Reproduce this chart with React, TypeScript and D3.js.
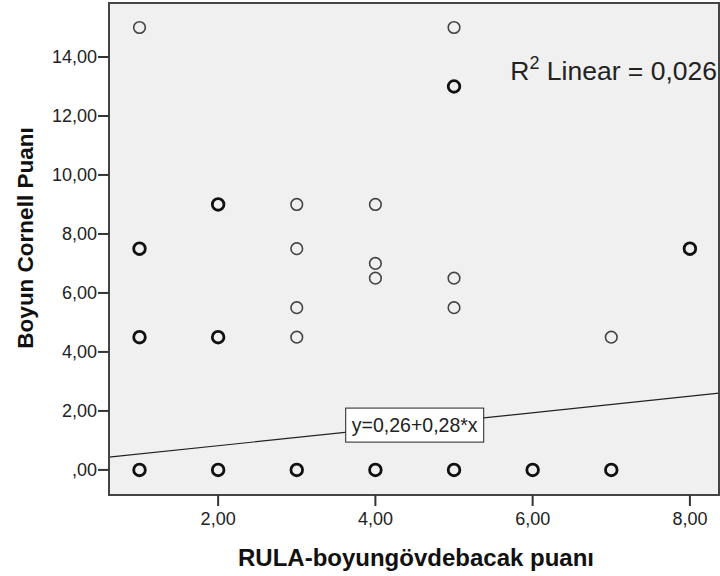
import React from 'react';
import * as d3 from 'd3';

// RULA score vs. neck Cornell score; count = number of overlapping cases
const rulaScore = [1, 1, 1, 1, 2, 2, 2, 3, 3, 3, 3, 3, 4, 4, 4, 4, 5, 5, 5, 5, 5, 6, 7, 7, 8];
const cornellScore = [15, 7.5, 4.5, 0, 9, 4.5, 0, 9, 7.5, 5.5, 4.5, 0, 9, 7, 6.5, 0, 15, 13, 6.5, 5.5, 0, 0, 4.5, 0, 7.5];
const caseCount = [1, 2, 2, 5, 2, 2, 4, 1, 1, 1, 1, 4, 1, 1, 1, 3, 1, 2, 1, 1, 4, 2, 1, 2, 2];

const xTicks = [2, 4, 6, 8];
const yTicks = [0, 2, 4, 6, 8, 10, 12, 14];

const intercept = 0.26;
const slope = 0.28;
const rSquared = '0,026';

const width = 720;
const height = 576;
const margin = { top: 3, right: 1, bottom: 81, left: 109 };

const fmt = (v: number) => {
  const s = v.toFixed(2).replace('.', ',');
  return s.startsWith('0,') ? s.slice(1) : s;
};

export default function App() {
  const x = d3.scaleLinear().domain([0.612, 8.37]).range([margin.left, width - margin.right]);
  const y = d3.scaleLinear().domain([-0.85, 15.83]).range([height - margin.bottom, margin.top]);

  const [x0, x1] = x.domain();
  const fitLine = d3.line<number>()
    .x(d => x(d))
    .y(d => y(intercept + slope * d));

  const labelX = 4.5;
  const labelY = y(intercept + slope * labelX);
  const plotBottom = height - margin.bottom;
  const font = "'Liberation Sans', Arial, sans-serif";

  return (
    <svg width={width} height={height} style={{ position: 'absolute', left: 0, top: 0, fontFamily: font }}>
      <rect x={margin.left} y={margin.top} width={width - margin.left - margin.right}
        height={plotBottom - margin.top} fill="#f0f0f0" />

      <path d={fitLine([x0, x1]) ?? ''} fill="none" stroke="#222" strokeWidth={1.2} />

      {rulaScore.map((v, i) => (
        <circle key={i} cx={x(v)} cy={y(cornellScore[i])} r={5.8}
          fill="none" stroke={caseCount[i] > 1 ? '#111' : '#444'}
          strokeWidth={caseCount[i] > 1 ? 2.8 : 1.6} />
      ))}

      <g>
        <rect x={x(labelX) - 69} y={labelY - 17} width={138} height={34}
          fill="#fff" stroke="#222" strokeWidth={1} />
        <text x={x(labelX)} y={labelY + 7} textAnchor="middle"
          fontSize={19.5} fill="#222">y=0,26+0,28*x</text>
      </g>

      <text x={width - 3} y={80} textAnchor="end" fontSize={26.5} fill="#222">
        R<tspan dy={-11} fontSize={18}>2</tspan><tspan dy={11}> Linear = {rSquared}</tspan>
      </text>

      <rect x={margin.left} y={margin.top} width={width - margin.left - margin.right}
        height={plotBottom - margin.top} fill="none" stroke="#444" strokeWidth={2} />

      {yTicks.map(t => (
        <g key={t} transform={`translate(${margin.left},${y(t)})`}>
          <line x1={-11} x2={0} stroke="#333" strokeWidth={2} />
          <text x={-12} dy="0.35em" textAnchor="end" fontSize={18} fill="#222">{fmt(t)}</text>
        </g>
      ))}

      {xTicks.map(t => (
        <g key={t} transform={`translate(${x(t)},${plotBottom})`}>
          <line y1={0} y2={11} stroke="#333" strokeWidth={2} />
          <text y={30} textAnchor="middle" fontSize={18} fill="#222">{fmt(t)}</text>
        </g>
      ))}

      <text x={416} y={566} textAnchor="middle" fontSize={24}
        fontWeight="bold" fill="#111">RULA-boyungövdebacak puanı</text>
      <text transform={`translate(33,238) rotate(-90)`}
        textAnchor="middle" fontSize={22.5} fontWeight="bold" fill="#111">Boyun Cornell Puanı</text>
    </svg>
  );
}
